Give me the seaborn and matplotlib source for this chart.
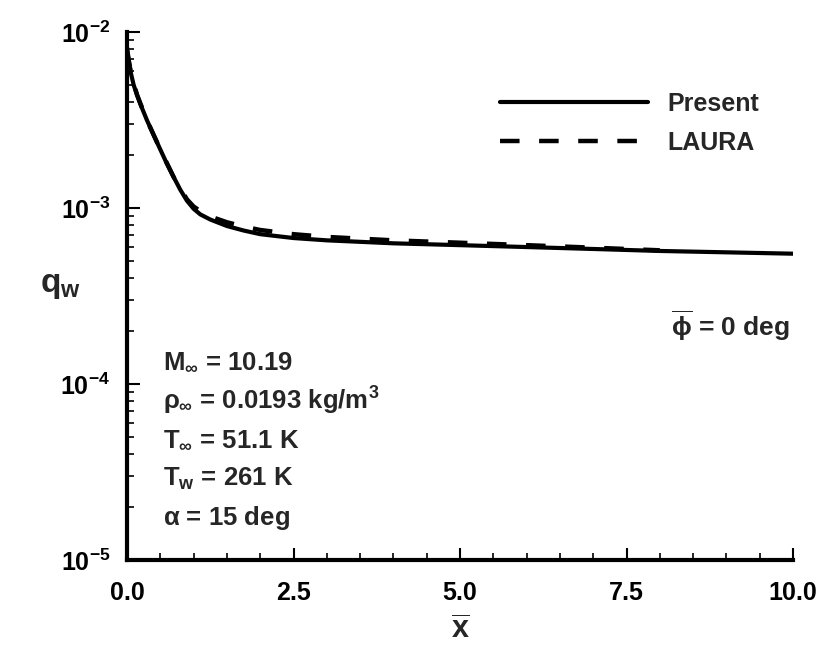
import numpy as np
import pandas as pd
import seaborn as sns
import matplotlib
matplotlib.use("Agg")
import matplotlib.pyplot as plt
from matplotlib.ticker import LogLocator, FixedLocator, MultipleLocator, NullFormatter
from matplotlib.lines import Line2D

# ---- data ----
x_present = [0.0, 0.03, 0.06, 0.1, 0.15, 0.2, 0.3, 0.4, 0.5, 0.6, 0.7, 0.8, 0.9, 1.0,
             1.1, 1.25, 1.5, 1.75, 2.0, 2.5, 3.0, 4.0, 5.0, 6.0, 7.0, 8.0, 9.0, 10.0]
q_present = [8.2e-3, 6.8e-3, 5.8e-3, 5.0e-3, 4.4e-3, 3.9e-3, 3.15e-3, 2.6e-3, 2.15e-3,
             1.78e-3, 1.5e-3, 1.27e-3, 1.1e-3, 9.9e-4, 9.2e-4, 8.6e-4, 7.9e-4, 7.45e-4,
             7.1e-4, 6.75e-4, 6.55e-4, 6.3e-4, 6.15e-4, 6.0e-4, 5.85e-4, 5.7e-4, 5.6e-4,
             5.5e-4]
x_laura = [0.0, 0.06, 0.15, 0.3, 0.5, 0.7, 0.9, 1.0, 1.1, 1.25, 1.5, 1.75, 2.0, 2.5, 3.0,
           4.0, 5.0, 6.0, 7.0, 8.0]
q_laura = [7.8e-3, 5.8e-3, 4.4e-3, 3.15e-3, 2.15e-3, 1.5e-3, 1.12e-3, 1.02e-3, 9.6e-4,
           8.95e-4, 8.3e-4, 7.85e-4, 7.5e-4, 7.1e-4, 6.85e-4, 6.55e-4, 6.35e-4, 6.15e-4,
           5.95e-4, 5.75e-4]
series_labels = ["Present", "LAURA"]
x_ticks = [0.0, 2.5, 5.0, 7.5, 10.0]
x_tick_labels = ["0.0", "2.5", "5.0", "7.5", "10.0"]
y_ticks = [1e-5, 1e-4, 1e-3, 1e-2]
y_tick_labels = [r"$\mathbf{10^{-5}}$", r"$\mathbf{10^{-4}}$", r"$\mathbf{10^{-3}}$", r"$\mathbf{10^{-2}}$"]
conditions = [r"M$_\infty$ = 10.19",
              r"$\rho_\infty$ = 0.0193 kg/m$^3$",
              r"T$_\infty$ = 51.1 K",
              r"T$_\mathrm{w}$ = 261 K",
              r"$\alpha$ = 15 deg"]
phi_label = r"$\overline{\phi}$ = 0 deg"

sns.set_theme(style="ticks")
plt.rcParams["font.family"] = ["Liberation Sans", "DejaVu Sans"]
plt.rcParams["font.weight"] = "bold"
plt.rcParams["axes.labelweight"] = "bold"
plt.rcParams["mathtext.fontset"] = "custom"
plt.rcParams["mathtext.rm"] = "Liberation Sans:bold"
plt.rcParams["mathtext.it"] = "Liberation Sans:bold"
plt.rcParams["mathtext.bf"] = "Liberation Sans:bold"
plt.rcParams["mathtext.sf"] = "Liberation Sans:bold"

fig = plt.figure(figsize=(8.18, 6.5), dpi=100)
ax = fig.add_axes([127/818, (650-560)/650, (793-127)/818, (560-32)/650])

df_p = pd.DataFrame({"x": x_present, "q": q_present})
df_l = pd.DataFrame({"x": x_laura, "q": q_laura})
sns.lineplot(data=df_p, x="x", y="q", ax=ax, color="black", lw=3.0, label=series_labels[0])
sns.lineplot(data=df_l, x="x", y="q", ax=ax, color="black", lw=3.2, label=series_labels[1])
ax.lines[1].set_dashes([4.4, 4.4])
ax.lines[1].set_dash_capstyle("butt")

ax.set_yscale("log")
ax.set_xlim(0, 10)
ax.set_ylim(1e-5, 1e-2)
ax.set_xticks(x_ticks)
ax.set_xticklabels(x_tick_labels, fontsize=18, fontweight="bold")
ax.xaxis.set_minor_locator(MultipleLocator(0.5))
ax.yaxis.set_major_locator(FixedLocator(y_ticks))
ax.set_yticklabels(y_tick_labels, fontsize=18)
ax.yaxis.set_minor_locator(LogLocator(base=10, subs=np.arange(2, 10)))
ax.yaxis.set_minor_formatter(NullFormatter())

for s in ["top", "right"]:
    ax.spines[s].set_visible(False)
for s in ["left", "bottom"]:
    ax.spines[s].set_linewidth(3)
    ax.spines[s].set_color("black")

ax.tick_params(axis="both", which="major", direction="in", length=9, width=1.5, colors="black")
ax.tick_params(axis="both", which="minor", direction="in", length=5, width=1.2, colors="black")
ax.tick_params(axis="x", which="major", pad=15)
ax.tick_params(axis="y", which="major", pad=12)

ax.set_xlabel(r"$\overline{\mathrm{x}}$", fontsize=22, fontweight="bold", labelpad=8)
ax.set_ylabel(r"q$_\mathrm{w}$", fontsize=24, fontweight="bold", rotation=0)
ax.yaxis.set_label_coords(-0.1, 0.49)

h_p = Line2D([], [], color="black", lw=3.0)
h_l = Line2D([], [], color="black", lw=3.2, dashes=[4.4, 4.4], dash_capstyle="butt")
leg = ax.legend([h_p, h_l], series_labels, loc="upper left",
                bbox_to_anchor=((500-127)/666, 1 - (92-32)/528), frameon=False,
                fontsize=18, handlelength=5.9, handletextpad=0.8, labelspacing=0.6,
                borderpad=0, borderaxespad=0)
for t in leg.get_texts():
    t.set_fontweight("bold")

for i, line in enumerate(conditions):
    ax.text((163-127)/666, 1 - (362 - 32 + i*39)/528, line, transform=ax.transAxes,
            fontsize=18.5, fontweight="bold", va="center", ha="left")
ax.text(0.995, 1 - (326-32)/528, phi_label, transform=ax.transAxes,
        fontsize=19, fontweight="bold", va="center", ha="right")

fig.savefig("out.png", dpi=100)
